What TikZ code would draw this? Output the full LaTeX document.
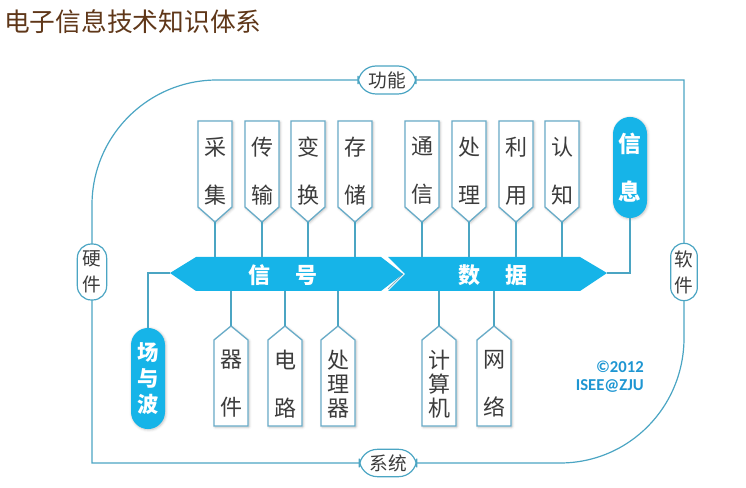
\documentclass[tikz,border=0pt]{standalone}
\usepackage{fontspec}
\setmainfont{Carlito}
\newfontfamily\cjk{Noto Sans CJK SC}
\usetikzlibrary{shapes.misc,shadows.blur}
\definecolor{framec}{RGB}{75,165,195}
\definecolor{flagc}{RGB}{105,172,200}
\definecolor{bandc}{RGB}{22,180,232}
\definecolor{textc}{RGB}{60,60,60}
\definecolor{titlec}{RGB}{95,55,25}
\definecolor{cpc}{RGB}{30,150,210}
\tikzset{
  flagbox/.style={draw=flagc, line width=1pt, fill=white,
    blur shadow={shadow xshift=0.8pt, shadow yshift=-0.8pt, shadow blur steps=4, shadow opacity=25}},
  flagtext/.style={font=\cjk\fontsize{16.5pt}{18pt}\selectfont, text=textc, align=center, inner sep=0pt},
  conn/.style={draw=framec, line width=0.9pt},
  framel/.style={draw=framec, line width=0.9pt},
  pill/.style={draw=framec, line width=0.9pt, fill=white, rounded corners=13.5pt, inner sep=0pt,
    font=\cjk\fontsize{14pt}{19.5pt}\selectfont, text=textc, align=center},
  bluepill/.style={fill=bandc, rounded corners=12.8pt, inner sep=0pt, minimum width=25.5pt,
    minimum height=75.8pt, text=white, align=center,
    blur shadow={shadow xshift=0.6pt, shadow yshift=-0.6pt, shadow blur steps=4, shadow opacity=25}},
  band/.style={fill=bandc},
  bandtext/.style={font=\cjk\bfseries\fontsize{16.5pt}{18pt}\selectfont, text=white, inner sep=0pt}
}
\newcommand\tflag[4]{%
  \path[flagbox] ({#2-17},121) -- ({#2+17},121) -- ({#2+17},207) -- (#2,222) -- ({#2-17},207) -- cycle;
  \node[flagtext] (#1) at (#2,171) {#3\\[18pt]#4};
  \coordinate (#1-tip) at (#2,222);
}
\newcommand\bflag[3]{%
  \path[flagbox] ({#2-17},426) -- ({#2-17},340) -- (#2,326) -- ({#2+17},340) -- ({#2+17},426) -- cycle;
  \node[flagtext] (#1) at (#2,384) {#3};
  \coordinate (#1-top) at (#2,326);
}
\begin{document}
\begin{tikzpicture}[x=0.75pt,y=-0.75pt]
\useasboundingbox (0,0) rectangle (746,488);

% title
\node[anchor=west, inner sep=0pt, font=\cjk\fontsize{19.3pt}{22pt}\selectfont, text=titlec] (title) at (4,22) {电子信息技术知识体系};

% frame
\draw[framel] (217,80) -- (684,80) -- (684,338)
  .. controls (684,407) and (629,463) .. (560,463) -- (92,463) -- (92,205)
  .. controls (92,136) and (148,80) .. (217,80);

\node[pill, minimum width=43.5pt, minimum height=21pt] (gn) at (387,80) {功能};
\node[pill, minimum width=43pt, minimum height=20.5pt] (xt) at (388,463) {系统};
\node[pill, minimum width=22pt, minimum height=42pt, rounded corners=10.5pt] (yj) at (92,272) {硬\\件};
\node[pill, minimum width=20pt, minimum height=43pt, rounded corners=10pt] (rj) at (684,272) {软\\件};

% band coordinates
\coordinate (bandtop) at (0,257);
\coordinate (bandbot) at (0,291);
\coordinate (stip) at (170,273);
\coordinate (dtip) at (607,273);

% data band (notched left)
\path[band] (388,257) -- (580,257) -- (dtip) -- (580,291) -- (388,291) -- (405,274) -- cycle;
% signal band
\path[band] (stip) -- (196,257) -- (381,257) -- (403,274) -- (381,291) -- (196,291) -- cycle;
\draw[bandc!60!black, line width=0.6pt, opacity=0.5] (403,274) -- (388,289);
\node[bandtext] (sig) at (283,275) {信\hspace{1.14em}号};
\node[bandtext] (dat) at (493,275) {数\hspace{1.14em}据};

% top flags
\tflag{cj}{215}{采}{集}
\tflag{cs}{262}{传}{输}
\tflag{bh}{308}{变}{换}
\tflag{cc}{355}{存}{储}
\tflag{tx}{422}{通}{信}
\tflag{cl}{469}{处}{理}
\tflag{ly}{516}{利}{用}
\tflag{rz}{562}{认}{知}

% bottom flags
\bflag{qj}{231}{器\\[18pt]件}
\bflag{dl}{285}{电\\[18pt]路}
\bflag{clq}{338}{处\\理\\器}
\bflag{jsj}{439}{计\\算\\机}
\bflag{wl}{494}{网\\[18pt]络}

% blue pills
\node[bluepill, font=\cjk\bfseries\fontsize{17pt}{18pt}\selectfont] (xx) at (630,167.5) {信\\[18pt]息};
\node[bluepill, font=\cjk\bfseries\fontsize{16pt}{19.5pt}\selectfont] (cyb) at (148,378.5) {场\\与\\波};

% connectors
\foreach \n in {cj,cs,bh,cc,tx,cl,ly,rz}
  \draw[conn] (\n-tip) -- (\n-tip |- bandtop);
\foreach \n in {qj,dl,clq,jsj,wl}
  \draw[conn] (\n-top |- bandbot) -- (\n-top);
\draw[conn, line width=1.2pt] (xx.south) -- (xx.south |- dtip) -- (dtip);
\draw[conn, line width=1.2pt] (cyb.north) -- (cyb.north |- stip) -- (stip);

% copyright
\node[anchor=east, align=right, inner sep=0pt, font=\bfseries\fontsize{12.5pt}{13.5pt}\selectfont, text=cpc] (cp) at (644,377) {©2012\\ISEE@ZJU};
\end{tikzpicture}
\end{document}
